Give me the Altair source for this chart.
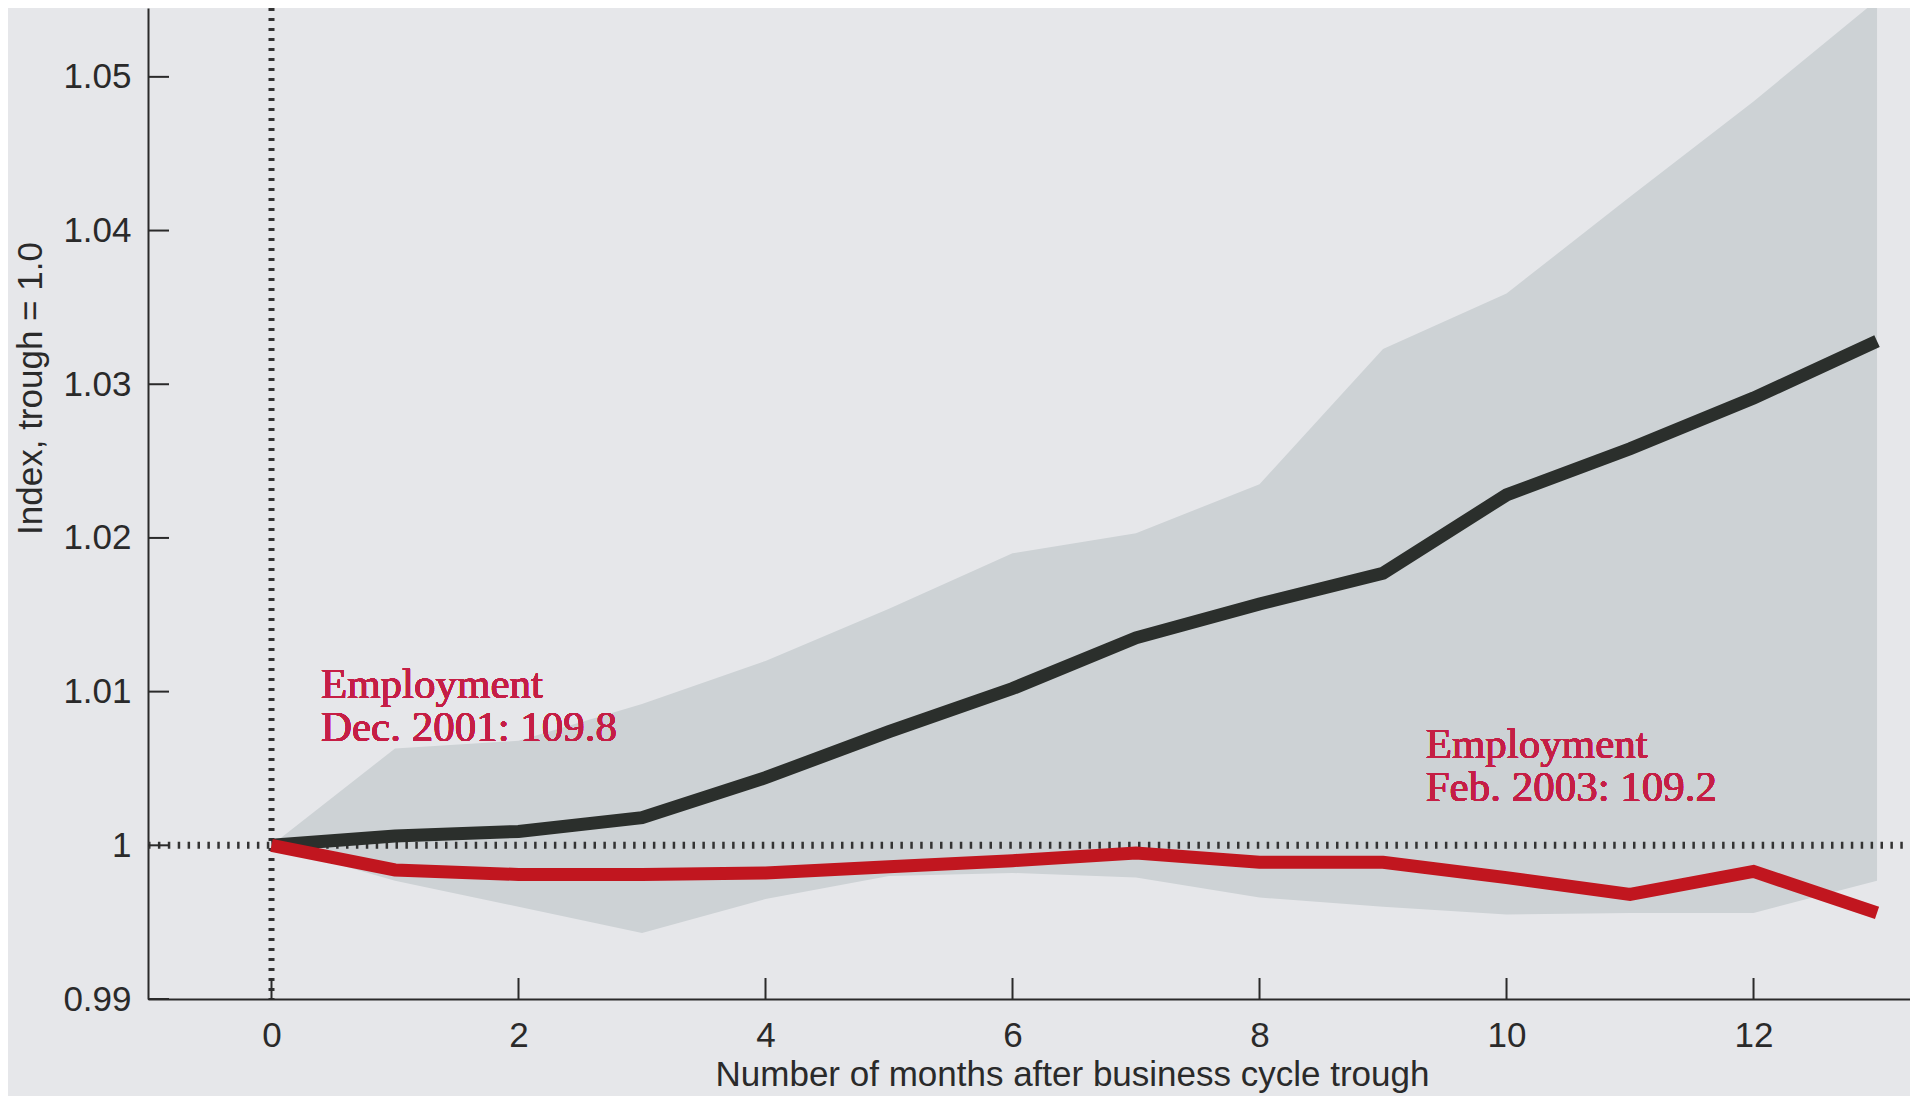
import altair as alt
import pandas as pd

# ---------------- data ----------------
months = list(range(14))
avg_recovery = [1.0000, 1.0006, 1.0009, 1.0018, 1.0044, 1.0074, 1.0102,
                1.0135, 1.0157, 1.0177, 1.0228, 1.0258, 1.0291, 1.0328]
range_high = [1.0000, 1.0063, 1.0068, 1.0092, 1.0120, 1.0154, 1.0190,
              1.0203, 1.0235, 1.0323, 1.0359, 1.0422, 1.0484, 1.0550]
range_low = [1.0000, 0.9977, 0.9960, 0.9943, 0.9965, 0.9980, 0.9982,
             0.9979, 0.9966, 0.9960, 0.9955, 0.9956, 0.9956, 0.9977]
current = [1.0000, 0.9984, 0.9981, 0.9981, 0.9982, 0.9986, 0.9990,
           0.9995, 0.9989, 0.9989, 0.9979, 0.9968, 0.9983, 0.9956]
x_ticks = [0, 2, 4, 6, 8, 10, 12]
y_ticks = [0.99, 1.00, 1.01, 1.02, 1.03, 1.04, 1.05]
ref_x = [0]
ref_y = [1.0]
note_start = ["Employment", "Dec. 2001: 109.8"]
note_end = ["Employment", "Feb. 2003: 109.2"]

# ---------------- styling ----------------
BG = "#e6e7ea"
BAND = "#cdd2d5"
BLACK = "#2b2f2c"
RED = "#c1161f"
TEXT_RED = "#c51e45"
AXIS = "#2a2a2a"
LABEL = "#2a2a2a"
SANS = "Liberation Sans"
SERIF = "Liberation Serif"
W, H = 1762, 991

df = pd.DataFrame({"month": months, "avg": avg_recovery, "high": range_high,
                   "low": range_low, "current": current})
xt = pd.DataFrame({"v": x_ticks})
yt = pd.DataFrame({"v": y_ticks})
rx = pd.DataFrame({"v": ref_x})
ry = pd.DataFrame({"v": ref_y})

xs = alt.Scale(domain=[-1, 13.267], nice=False, zero=False)
ys = alt.Scale(domain=[0.99, 1.05448], nice=False, zero=False)

x_axis = alt.Axis(values=x_ticks, ticks=False, tickSize=0, grid=False,
                  domainColor=AXIS, domainWidth=2,
                  labelFont=SANS, labelFontSize=35, labelColor=LABEL,
                  labelPadding=19, labelFlush=False, labelOverlap=False,
                  titleFont=SANS, titleFontSize=35, titleFontWeight="normal",
                  titleColor=LABEL, titleX=924, titleY=86,
                  titleBaseline="alphabetic", titleAlign="center")
y_axis = alt.Axis(values=y_ticks, format=".2~f", ticks=False, tickSize=0,
                  grid=False, domainColor=AXIS, domainWidth=2,
                  labelFont=SANS, labelFontSize=35, labelColor=LABEL,
                  labelPadding=17, labelFlush=False, labelOverlap=False,
                  titleFont=SANS, titleFontSize=35, titleFontWeight="normal",
                  titleColor=LABEL, titleX=-118, titleY=380,
                  titleAngle=270, titleBaseline="middle", titleAlign="center")

XT = "Number of months after business cycle trough"
YT = "Index, trough = 1.0"


def X(field):
    return alt.X(field, type="quantitative", scale=xs, axis=x_axis, title=XT)


def Y(field):
    return alt.Y(field, type="quantitative", scale=ys, axis=y_axis, title=YT)


band = alt.Chart(df).mark_area(color=BAND, clip=True).encode(
    x=X("month"), y=Y("high"), y2="low")

h_dots = alt.Chart(ry).mark_rule(color="#333333", strokeWidth=7,
                                 strokeDash=[2.5, 7.4]).encode(
    y=Y("v"), x=alt.value(0), x2=alt.value(W))
v_dots = alt.Chart(rx).mark_rule(color="#333333", strokeWidth=6,
                                 strokeDash=[3, 7]).encode(
    x=X("v"), y=alt.value(0), y2=alt.value(H))

avg_line = alt.Chart(df).mark_line(color=BLACK, strokeWidth=13).encode(
    x=X("month"), y=Y("avg"))
cur_line = alt.Chart(df).mark_line(color=RED, strokeWidth=13).encode(
    x=X("month"), y=Y("current"))

y_tick_marks = alt.Chart(yt).mark_rule(color=AXIS, strokeWidth=2).encode(
    y=Y("v"), x=alt.value(0), x2=alt.value(21))
x_tick_marks = alt.Chart(xt).mark_rule(color=AXIS, strokeWidth=2).encode(
    x=X("v"), y=alt.value(H), y2=alt.value(H - 21))

txt1 = alt.Chart(df).mark_text(text=note_start, font=SERIF, fontSize=43,
                               color=TEXT_RED, align="left",
                               baseline="alphabetic", lineHeight=43).encode(
    x=alt.X(datum=0.40, type="quantitative", scale=xs, axis=x_axis, title=XT),
    y=alt.Y(datum=1.0096, type="quantitative", scale=ys, axis=y_axis, title=YT))
txt2 = alt.Chart(df).mark_text(text=note_end, font=SERIF, fontSize=43,
                               color=TEXT_RED, align="left",
                               baseline="alphabetic", lineHeight=43).encode(
    x=alt.X(datum=9.345, type="quantitative", scale=xs, axis=x_axis, title=XT),
    y=alt.Y(datum=1.0057, type="quantitative", scale=ys, axis=y_axis, title=YT))

chart = alt.layer(
    band, h_dots, v_dots, avg_line, cur_line, y_tick_marks, x_tick_marks,
    txt1, txt2
).properties(
    width=W, height=H,
    padding={"left": 140, "top": 0, "right": 0, "bottom": 97},
    autosize=alt.AutoSizeParams(type="none"),
    background=BG,
).configure_view(stroke=None)

chart.save("out.html", embed_options={"renderer": "svg", "actions": False})
